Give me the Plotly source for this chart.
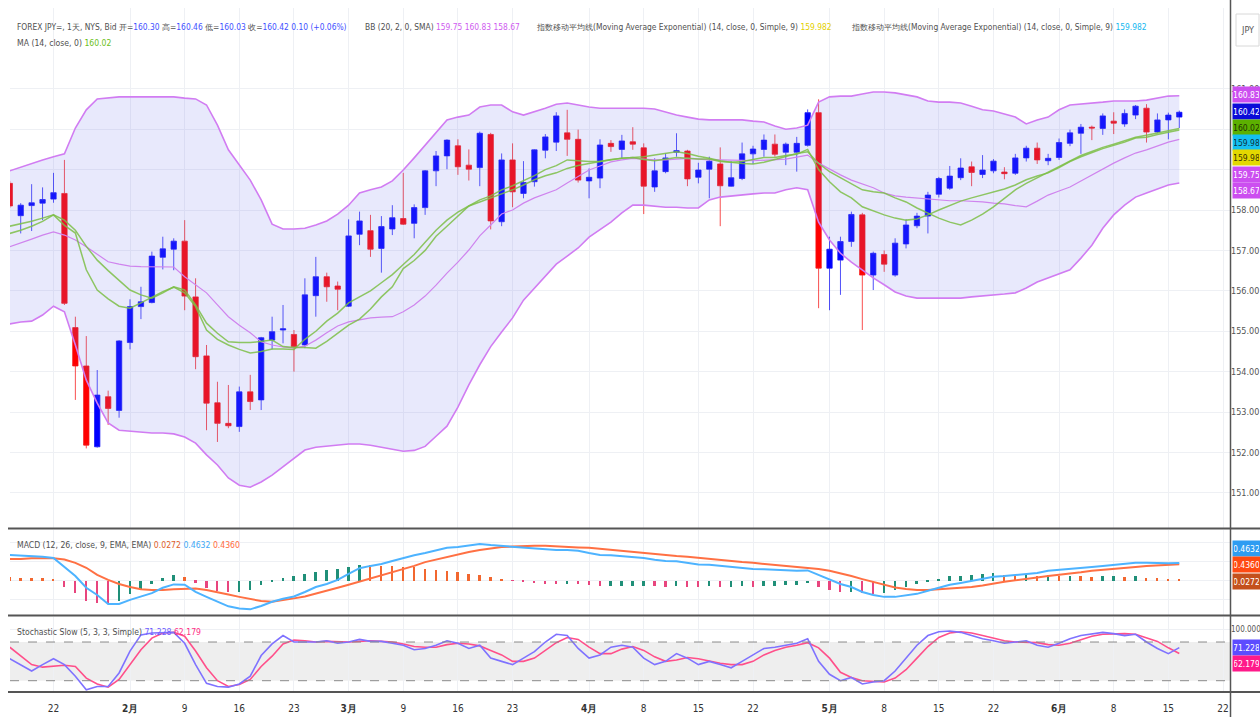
import plotly.graph_objects as go

opens = [158.66, 157.86, 158.11, 158.17, 158.27, 158.41, 155.09, 154.14, 152.14, 153.38,
 153.04, 154.72, 155.61, 155.71, 156.83, 157.03, 157.23, 155.85, 154.39, 153.23,
 152.72, 152.64, 153.50, 153.30, 154.78, 155.03, 154.92, 154.66, 155.88, 156.35,
 156.12, 155.62, 157.40, 157.49, 157.05, 157.53, 157.79, 157.67, 158.06, 158.97,
 159.34, 159.59, 159.11, 159.05, 159.87, 157.71, 159.24, 158.41, 158.70, 159.48,
 159.68, 159.91, 159.75, 158.72, 158.79, 159.65, 159.50, 159.69, 159.54, 158.57,
 158.95, 159.43, 159.46, 158.81, 159.01, 159.14, 158.59, 158.78, 159.39, 159.50,
 159.63, 159.43, 159.43, 159.60, 160.41, 156.56, 156.76, 157.22, 157.88, 156.39,
 156.90, 156.39, 157.16, 157.61, 157.85, 158.39, 158.54, 158.80, 159.07, 158.88,
 158.97, 158.94, 158.91, 159.29, 159.53, 159.22, 159.30, 159.65, 159.90, 160.05,
 160.02, 160.20, 160.13, 160.35, 160.52, 159.93, 160.23, 160.30]
highs = [158.72, 158.17, 158.64, 158.56, 158.92, 159.24, 155.36, 154.88, 154.04, 153.53,
 154.78, 155.79, 156.10, 156.97, 157.34, 157.30, 157.75, 156.31, 154.66, 153.75,
 153.67, 153.63, 153.92, 154.86, 155.36, 155.65, 155.03, 156.31, 156.84, 156.45,
 156.23, 157.77, 157.96, 157.88, 157.85, 158.12, 158.92, 158.14, 158.99, 159.46,
 159.75, 159.75, 159.50, 159.94, 159.91, 159.40, 159.65, 159.21, 159.50, 159.88,
 160.42, 160.48, 159.99, 159.03, 159.75, 159.73, 159.86, 160.05, 159.65, 159.28,
 159.40, 159.90, 159.49, 159.17, 159.32, 159.55, 159.21, 159.67, 159.59, 159.87,
 159.87, 159.67, 159.81, 160.49, 160.74, 157.34, 157.34, 157.96, 157.93, 156.97,
 157.00, 157.30, 157.77, 157.93, 158.45, 158.82, 159.09, 159.28, 159.20, 159.36,
 159.26, 159.06, 159.39, 159.59, 159.67, 159.39, 159.77, 159.99, 160.13, 160.09,
 160.39, 160.42, 160.49, 160.60, 160.62, 160.39, 160.41, 160.46]
lows = [158.05, 157.42, 157.48, 157.75, 158.18, 155.65, 153.30, 152.10, 152.12, 152.68,
 152.86, 154.55, 155.30, 155.69, 156.53, 156.51, 155.52, 154.06, 152.55, 152.26,
 152.60, 152.51, 153.05, 153.05, 154.55, 154.70, 154.00, 154.58, 155.36, 155.73,
 155.52, 155.60, 157.13, 156.84, 156.45, 157.38, 157.63, 157.30, 157.88, 158.59,
 159.01, 158.87, 158.73, 158.59, 157.52, 157.60, 158.07, 158.29, 158.58, 159.28,
 159.46, 159.34, 158.68, 158.29, 158.54, 159.44, 159.28, 159.49, 157.90, 158.45,
 158.91, 159.32, 158.59, 158.66, 158.29, 157.60, 158.58, 158.74, 159.14, 159.32,
 159.32, 159.11, 158.95, 159.57, 155.57, 155.52, 155.90, 157.09, 155.03, 156.02,
 156.47, 156.35, 157.05, 157.55, 157.42, 158.31, 158.50, 158.74, 158.59, 158.79,
 158.91, 158.76, 158.87, 159.20, 159.14, 159.11, 159.24, 159.58, 159.39, 159.73,
 159.86, 159.88, 160.06, 160.25, 159.67, 159.90, 159.75, 160.03]
closes = [158.10, 158.12, 158.18, 158.26, 158.43, 155.69, 154.14, 152.18, 153.42, 153.09,
 154.76, 155.61, 155.73, 156.86, 157.04, 157.23, 155.87, 154.37, 153.22, 152.72,
 152.66, 153.50, 153.26, 154.84, 154.99, 155.06, 154.62, 155.90, 156.35, 156.10,
 156.04, 157.36, 157.73, 157.03, 157.59, 157.81, 157.65, 158.06, 158.97, 159.34,
 159.73, 159.07, 159.01, 159.90, 157.73, 159.24, 158.45, 158.68, 159.49, 159.81,
 160.33, 159.75, 158.74, 158.81, 159.61, 159.57, 159.71, 159.63, 158.59, 158.97,
 159.29, 159.47, 158.77, 158.99, 159.21, 158.60, 158.80, 159.39, 159.51, 159.73,
 159.38, 159.63, 159.65, 160.41, 156.56, 157.03, 157.22, 157.89, 156.39, 156.93,
 156.66, 157.18, 157.63, 157.85, 158.37, 158.78, 158.84, 159.04, 158.93, 158.99,
 159.21, 158.90, 159.29, 159.53, 159.24, 159.28, 159.67, 159.91, 160.05, 160.03,
 160.33, 160.15, 160.39, 160.57, 159.93, 160.23, 160.35, 160.42]

bb_upper = [158.97, 159.06, 159.16, 159.24, 159.32, 159.39, 160.03, 160.48, 160.75, 160.77,
 160.80, 160.80, 160.80, 160.80, 160.80, 160.80, 160.77, 160.75, 160.60, 160.10,
 159.49, 159.11, 158.74, 158.25, 157.65, 157.53, 157.53, 157.55, 157.63, 157.73,
 157.90, 158.12, 158.42, 158.50, 158.57, 158.72, 158.99, 159.29, 159.61, 159.91,
 160.23, 160.30, 160.35, 160.55, 160.60, 160.60, 160.43, 160.35, 160.43, 160.52,
 160.62, 160.65, 160.60, 160.55, 160.52, 160.52, 160.52, 160.52, 160.52, 160.50,
 160.43, 160.35, 160.30, 160.25, 160.23, 160.23, 160.23, 160.23, 160.20, 160.18,
 160.08, 160.00, 160.03, 160.10, 160.67, 160.80, 160.82, 160.82, 160.87, 160.92,
 160.92, 160.90, 160.85, 160.80, 160.70, 160.67, 160.67, 160.65, 160.57, 160.48,
 160.45, 160.38, 160.30, 160.13, 160.23, 160.30, 160.48, 160.60, 160.62, 160.65,
 160.67, 160.70, 160.70, 160.70, 160.72, 160.77, 160.82, 160.83]
bb_mid = [157.09, 157.18, 157.28, 157.38, 157.46, 157.38, 157.26, 157.09, 156.91, 156.72,
 156.66, 156.61, 156.60, 156.60, 156.60, 156.59, 156.35, 156.14, 155.95, 155.65,
 155.36, 155.15, 154.96, 154.74, 154.66, 154.61, 154.58, 154.63, 154.78, 154.96,
 155.13, 155.23, 155.28, 155.33, 155.35, 155.36, 155.48, 155.65, 155.87, 156.14,
 156.44, 156.71, 157.01, 157.36, 157.63, 157.90, 158.00, 158.17, 158.30, 158.40,
 158.50, 158.67, 158.82, 158.99, 159.09, 159.19, 159.24, 159.28, 159.26, 159.24,
 159.24, 159.26, 159.28, 159.26, 159.24, 159.24, 159.24, 159.23, 159.22, 159.23,
 159.24, 159.26, 159.31, 159.36, 159.16, 159.01, 158.87, 158.74, 158.64, 158.55,
 158.42, 158.35, 158.32, 158.30, 158.27, 158.25, 158.23, 158.23, 158.22, 158.20,
 158.17, 158.15, 158.11, 158.08, 158.22, 158.37, 158.47, 158.57, 158.72, 158.87,
 159.02, 159.16, 159.29, 159.41, 159.49, 159.58, 159.68, 159.75]
bb_lower = [155.18, 155.23, 155.25, 155.40, 155.62, 155.48, 154.66, 153.79, 153.22, 152.73,
 152.55, 152.53, 152.50, 152.48, 152.48, 152.46, 152.38, 152.23, 151.94, 151.69,
 151.37, 151.19, 151.14, 151.27, 151.44, 151.64, 151.86, 152.06, 152.13, 152.16,
 152.18, 152.21, 152.21, 152.18, 152.13, 152.08, 152.03, 152.05, 152.15, 152.40,
 152.65, 153.12, 153.67, 154.17, 154.62, 154.98, 155.33, 155.77, 156.07, 156.37,
 156.66, 156.86, 157.06, 157.33, 157.51, 157.70, 157.93, 158.12, 158.12, 158.10,
 158.07, 158.07, 158.05, 158.05, 158.25, 158.32, 158.35, 158.37, 158.40, 158.42,
 158.42, 158.50, 158.55, 158.50, 157.70, 157.26, 156.93, 156.71, 156.51, 156.32,
 156.15, 155.97, 155.87, 155.82, 155.82, 155.82, 155.82, 155.82, 155.85, 155.87,
 155.90, 155.92, 155.95, 156.07, 156.22, 156.32, 156.42, 156.52, 156.81, 157.13,
 157.55, 157.88, 158.12, 158.32, 158.42, 158.52, 158.62, 158.67]

ma_slow = [157.60, 157.66, 157.72, 157.80, 157.88, 157.75, 157.50, 157.10, 156.76, 156.50,
 156.25, 156.02, 155.90, 155.82, 155.95, 156.10, 156.02, 155.65, 155.20, 154.95,
 154.74, 154.72, 154.72, 154.75, 154.78, 154.62, 154.60, 154.60, 154.58, 154.75,
 154.95, 155.15, 155.30, 155.55, 155.85, 156.10, 156.55, 156.75, 157.00, 157.35,
 157.60, 157.85, 158.10, 158.20, 158.30, 158.41, 158.50, 158.62, 158.75, 158.85,
 158.92, 159.03, 159.10, 159.15, 159.20, 159.25, 159.28, 159.30, 159.32, 159.36,
 159.40, 159.44, 159.40, 159.33, 159.28, 159.22, 159.18, 159.15, 159.14, 159.18,
 159.25, 159.32, 159.40, 159.44, 159.15, 158.95, 158.80, 158.64, 158.50, 158.45,
 158.42, 158.30, 158.20, 158.05, 157.92, 157.80, 157.70, 157.63, 157.75, 157.90,
 158.08, 158.30, 158.50, 158.66, 158.80, 158.95, 159.08, 159.22, 159.35, 159.45,
 159.55, 159.63, 159.72, 159.80, 159.85, 159.90, 159.96, 160.02]
ema_fast = [157.42, 157.50, 157.60, 157.72, 157.88, 157.62, 157.43, 156.52, 156.02, 155.80,
 155.62, 155.57, 155.70, 155.85, 155.98, 156.09, 155.95, 155.61, 155.03, 154.80,
 154.66, 154.55, 154.46, 154.50, 154.56, 154.56, 154.55, 154.80, 155.00, 155.25,
 155.45, 155.70, 155.85, 156.00, 156.20, 156.40, 156.65, 156.90, 157.20, 157.50,
 157.75, 157.95, 158.10, 158.25, 158.35, 158.50, 158.60, 158.72, 158.85, 159.00,
 159.10, 159.24, 159.22, 159.20, 159.20, 159.24, 159.28, 159.30, 159.25, 159.22,
 159.26, 159.30, 159.28, 159.26, 159.26, 159.20, 159.18, 159.20, 159.25, 159.30,
 159.30, 159.35, 159.38, 159.50, 159.00, 158.70, 158.45, 158.30, 158.08, 157.98,
 157.88, 157.80, 157.75, 157.78, 157.88, 158.00, 158.12, 158.22, 158.30, 158.37,
 158.45, 158.52, 158.62, 158.75, 158.84, 158.92, 159.05, 159.20, 159.32, 159.42,
 159.52, 159.60, 159.68, 159.78, 159.80, 159.87, 159.93, 159.98]

macd_line = [0.68, 0.67, 0.65, 0.63, 0.60, 0.36, 0.12, -0.19, -0.38, -0.62,
 -0.62, -0.51, -0.43, -0.33, -0.19, -0.10, -0.11, -0.30, -0.43, -0.56,
 -0.68, -0.74, -0.76, -0.67, -0.56, -0.48, -0.42, -0.30, -0.17, -0.09,
 0.02, 0.18, 0.33, 0.39, 0.44, 0.52, 0.60, 0.67, 0.73, 0.81,
 0.87, 0.89, 0.93, 0.97, 0.94, 0.92, 0.89, 0.87, 0.84, 0.83,
 0.81, 0.81, 0.79, 0.73, 0.68, 0.67, 0.65, 0.63, 0.60, 0.55,
 0.52, 0.51, 0.47, 0.43, 0.42, 0.39, 0.36, 0.34, 0.31, 0.30,
 0.28, 0.27, 0.26, 0.27, 0.15, 0.02, -0.09, -0.17, -0.30, -0.38,
 -0.43, -0.43, -0.40, -0.35, -0.27, -0.19, -0.11, -0.06, -0.01, 0.04,
 0.10, 0.12, 0.15, 0.18, 0.20, 0.26, 0.28, 0.31, 0.34, 0.36,
 0.39, 0.42, 0.44, 0.47, 0.47, 0.46, 0.46, 0.4632]
macd_signal = [0.57, 0.57, 0.59, 0.59, 0.59, 0.56, 0.47, 0.34, 0.15, 0.02,
 -0.09, -0.17, -0.23, -0.25, -0.25, -0.23, -0.21, -0.21, -0.25, -0.30,
 -0.37, -0.43, -0.48, -0.54, -0.56, -0.52, -0.47, -0.42, -0.35, -0.27,
 -0.19, -0.11, -0.03, 0.06, 0.15, 0.23, 0.30, 0.39, 0.49, 0.56,
 0.63, 0.69, 0.76, 0.81, 0.85, 0.89, 0.90, 0.92, 0.92, 0.92,
 0.90, 0.89, 0.88, 0.87, 0.84, 0.81, 0.79, 0.76, 0.73, 0.71,
 0.68, 0.65, 0.63, 0.60, 0.57, 0.55, 0.52, 0.49, 0.47, 0.44,
 0.42, 0.39, 0.36, 0.34, 0.31, 0.26, 0.20, 0.12, 0.04, -0.03,
 -0.11, -0.18, -0.22, -0.25, -0.25, -0.23, -0.22, -0.19, -0.17, -0.13,
 -0.09, -0.03, 0.01, 0.04, 0.08, 0.12, 0.15, 0.18, 0.22, 0.26,
 0.28, 0.31, 0.34, 0.36, 0.39, 0.40, 0.42, 0.4360]
macd_hist = [0.10, 0.08, 0.07, 0.06, 0.05, -0.16, -0.33, -0.55, -0.60, -0.63,
 -0.53, -0.35, -0.26, -0.09, 0.06, 0.15, 0.09, -0.05, -0.19, -0.27,
 -0.31, -0.29, -0.26, -0.12, -0.02, 0.08, 0.11, 0.17, 0.23, 0.28,
 0.30, 0.35, 0.42, 0.41, 0.39, 0.38, 0.37, 0.36, 0.30, 0.28,
 0.26, 0.22, 0.18, 0.15, 0.10, 0.04, -0.01, -0.04, -0.07, -0.08,
 -0.09, -0.08, -0.09, -0.12, -0.15, -0.14, -0.14, -0.13, -0.13, -0.15,
 -0.16, -0.14, -0.16, -0.17, -0.15, -0.16, -0.16, -0.15, -0.16, -0.14,
 -0.13, -0.12, -0.11, -0.07, -0.16, -0.24, -0.29, -0.29, -0.34, -0.35,
 -0.32, -0.25, -0.18, -0.10, -0.02, 0.04, 0.11, 0.13, 0.16, 0.17,
 0.19, 0.15, 0.14, 0.14, 0.12, 0.14, 0.13, 0.13, 0.12, 0.10,
 0.11, 0.11, 0.10, 0.11, 0.08, 0.06, 0.04, 0.0272]

stoch_k = [54, 44, 35, 45, 54, 45, 27, 6, 11, 11,
 32, 66, 91, 94, 95, 95, 78, 45, 16, 11,
 10, 15, 27, 59, 77, 90, 80, 80, 80, 82,
 78, 80, 84, 81, 81, 78, 75, 68, 70, 75,
 82, 78, 70, 75, 55, 50, 45, 55, 65, 80,
 92, 90, 70, 55, 60, 72, 75, 72, 55, 45,
 50, 62, 55, 45, 50, 45, 40, 50, 60, 70,
 72, 75, 78, 85, 50, 30, 20, 25, 15, 18,
 20, 35, 55, 75, 90, 96, 97, 95, 90, 85,
 82, 78, 80, 82, 75, 72, 78, 85, 90, 92,
 95, 93, 90, 92, 80, 70, 62, 71.228]
stoch_d = [72, 58, 45, 41, 43, 44, 42, 24, 15, 10,
 22, 45, 68, 86, 94, 95, 89, 66, 40, 20,
 11, 14, 22, 42, 58, 77, 83, 82, 80, 81,
 80, 80, 81, 82, 81, 80, 77, 73, 72, 72,
 76, 78, 77, 74, 67, 60, 50, 50, 55, 67,
 79, 87, 84, 72, 62, 62, 69, 73, 67, 57,
 50, 52, 56, 54, 50, 47, 45, 45, 50, 60,
 67, 72, 75, 79, 71, 55, 33, 25, 20, 19,
 18, 24, 37, 55, 73, 87, 94, 96, 94, 90,
 86, 82, 80, 80, 79, 76, 75, 78, 84, 89,
 92, 93, 93, 92, 87, 81, 71, 62.179]

tick_idx = [4, 11, 16, 21, 26, 31, 36, 41, 46, 53, 58, 63, 68, 75, 80, 85, 90, 96, 101, 106, 111]
tick_text = ["22", "<b>2月</b>", "9", "16", "23", "<b>3月</b>", "9", "16", "23", "<b>4月</b>",
             "8", "15", "22", "<b>5月</b>", "8", "15", "22", "<b>6月</b>", "8", "15", "22"]
price_ticks = [151, 152, 153, 154, 155, 156, 157, 158, 159, 160, 161]
price_tick_text = ["151.00", "152.00", "153.00", "154.00", "155.00", "156.00", "157.00", "158.00",
                   "", "", "161.00"]

idx = list(range(len(closes)))

# ---- layout geometry in page pixels ----
W, H = 1260, 717
ML, MT = 10, 8
PW, PH = 1220, 684
MR, MB = W - ML - PW, H - MT - PH


def px(x):
    return (x - ML) / PW


def py(y):
    return (MT + PH - y) / PH


FONT = "Liberation Sans Narrow, DejaVu Sans Condensed, Liberation Sans, sans-serif"
GRID = "#eef0f4"
TXT = "#505050"

fig = go.Figure()

fig.add_trace(go.Scatter(x=idx, y=bb_lower, mode="lines", line=dict(color="#d17cf2", width=1.6),
                         xaxis="x", yaxis="y", showlegend=False, hoverinfo="skip"))
fig.add_trace(go.Scatter(x=idx, y=bb_upper, mode="lines", line=dict(color="#d17cf2", width=1.6),
                         fill="tonexty", fillcolor="rgba(120,123,235,0.17)",
                         xaxis="x", yaxis="y", showlegend=False, hoverinfo="skip"))
fig.add_trace(go.Scatter(x=idx, y=bb_mid, mode="lines", line=dict(color="#cf84ee", width=1.2),
                         xaxis="x", yaxis="y", showlegend=False, hoverinfo="skip"))
fig.add_trace(go.Scatter(x=idx, y=ma_slow, mode="lines", line=dict(color="rgba(124,190,70,0.85)", width=1.5),
                         xaxis="x", yaxis="y", showlegend=False, hoverinfo="skip"))
fig.add_trace(go.Scatter(x=idx, y=ema_fast, mode="lines", line=dict(color="rgba(124,190,70,0.85)", width=1.5),
                         xaxis="x", yaxis="y", showlegend=False, hoverinfo="skip"))
fig.add_trace(go.Candlestick(x=idx, open=opens, high=highs, low=lows, close=closes,
                             increasing=dict(line=dict(color="rgba(20,20,245,0.75)", width=1), fillcolor="#0000ff"),
                             decreasing=dict(line=dict(color="rgba(245,20,20,0.75)", width=1), fillcolor="#ff0000"),
                             xaxis="x", yaxis="y", showlegend=False, hoverinfo="skip"))

hist_colors = []
for i, v in enumerate(macd_hist):
    prev = macd_hist[i - 1] if i > 0 else v + 1
    if v >= prev:
        hist_colors.append("#1f8f78")
    elif v >= 0:
        hist_colors.append("#f2672f")
    else:
        hist_colors.append("#e8457e")
fig.add_trace(go.Bar(x=idx, y=macd_hist, marker=dict(color=hist_colors, line=dict(width=0)), width=0.18,
                     xaxis="x2", yaxis="y2", showlegend=False, hoverinfo="skip"))
fig.add_trace(go.Scatter(x=idx, y=macd_signal, mode="lines", line=dict(color="#ff7043", width=2),
                         xaxis="x2", yaxis="y2", showlegend=False, hoverinfo="skip"))
fig.add_trace(go.Scatter(x=idx, y=macd_line, mode="lines", line=dict(color="#4db3ff", width=2),
                         xaxis="x2", yaxis="y2", showlegend=False, hoverinfo="skip"))

fig.add_trace(go.Scatter(x=idx, y=stoch_d, mode="lines", line=dict(color="#ff4f8a", width=1.6),
                         xaxis="x3", yaxis="y3", showlegend=False, hoverinfo="skip"))
fig.add_trace(go.Scatter(x=idx, y=stoch_k, mode="lines", line=dict(color="#7f72ff", width=1.6),
                         xaxis="x3", yaxis="y3", showlegend=False, hoverinfo="skip"))

xr = [0.02, 111.64]
common_x = dict(range=xr, showgrid=True, gridcolor=GRID, gridwidth=1, zeroline=False,
                tickvals=tick_idx, showline=False, fixedrange=True, automargin=False)
fig.update_layout(
    width=W, height=H, margin=dict(l=ML, r=MR, t=MT, b=MB, autoexpand=False),
    paper_bgcolor="white", plot_bgcolor="white",
    font=dict(family=FONT, size=10, color=TXT),
    bargap=0,
    xaxis=dict(domain=[0, 1], anchor="y", showticklabels=False, rangeslider=dict(visible=False), **common_x),
    xaxis2=dict(domain=[0, 1], anchor="y2", showticklabels=False, **common_x),
    xaxis3=dict(domain=[0, 1], anchor="y3", ticktext=tick_text, ticks="", ticklen=0, ticklabelstandoff=9,
                tickfont=dict(size=10, color="#333"), **common_x),
    yaxis=dict(domain=[py(528), 1.0], range=[150.13, 163.0], side="right", tickvals=price_ticks,
               ticktext=price_tick_text, showgrid=True, gridcolor=GRID,
               zeroline=False, tickfont=dict(size=9, color="#555"), ticks="", fixedrange=True, automargin=False),
    yaxis2=dict(domain=[py(615), py(530)], range=[-0.91, 1.34], side="right", showticklabels=False,
                showgrid=True, gridcolor=GRID, tickvals=[-0.5, 0, 0.5, 1.0], zeroline=False,
                fixedrange=True, automargin=False),
    yaxis3=dict(domain=[0, py(617)], range=[2.48, 118.8], side="right", tickvals=[100],
                ticktext=["100.000"], showgrid=True, gridcolor=GRID, zeroline=False,
                tickfont=dict(size=8, color="#555"), ticks="", fixedrange=True, automargin=False),
)

shapes = []
shapes.append(dict(type="rect", xref="x3 domain", yref="y3", x0=0, x1=1, y0=20, y1=80,
                   fillcolor="rgba(0,0,0,0.065)", line=dict(width=0), layer="below"))
for lvl in (20, 80):
    shapes.append(dict(type="line", xref="x3 domain", yref="y3", x0=0, x1=1, y0=lvl, y1=lvl,
                       line=dict(color="#8a8a8a", width=1, dash="dash")))
for yy in (528.5, 615.5, 692.0):
    shapes.append(dict(type="line", xref="paper", yref="paper", x0=px(8), x1=px(1260), y0=py(yy), y1=py(yy),
                       line=dict(color="#555555", width=2)))
shapes.append(dict(type="line", xref="paper", yref="paper", x0=px(1230.5), x1=px(1230.5), y0=py(0), y1=py(717),
                   line=dict(color="#555555", width=1.5)))
shapes.append(dict(type="rect", xref="paper", yref="paper", x0=px(1236), x1=px(1259), y0=py(46), y1=py(14),
                   fillcolor="white", line=dict(color="#d8d8d8", width=1)))
fig.update_layout(shapes=shapes)

ann = []


def text(x, y, s, color=TXT, size=9):
    ann.append(dict(xref="paper", yref="paper", x=px(x), y=py(y), text=s, showarrow=False,
                    xanchor="left", yanchor="middle", font=dict(size=size, color=color, family=FONT)))


def c(s, col):
    return f"<span style='color:{col}'>{s}</span>"


BLUE = "#3f51ff"
VIO = "#cf5cf0"
SP = "&nbsp;"
text(15, 27, "FOREX JPY=, 1天, NYS, Bid" + SP
     + "开=" + c(f"{opens[-1]:.2f}", BLUE) + SP + "高=" + c(f"{highs[-1]:.2f}", BLUE) + SP
     + "低=" + c(f"{lows[-1]:.2f}", BLUE) + SP + "收=" + c(f"{closes[-1]:.2f}", BLUE) + SP
     + c("0.10 (+0.06%)", BLUE), size=8.4)
text(363, 27, "BB (20, 2, 0, SMA)" + SP + c(f"{bb_mid[-1]:.2f}", VIO) + SP
     + c(f"{bb_upper[-1]:.2f}", VIO) + SP + c(f"{bb_lower[-1]:.2f}", VIO), size=8.4)
text(534, 27, "指数移动平均线(Moving Average Exponential) (14, close, 0, Simple, 9)" + SP
     + c("159.982", "#e3cf00"), size=8.4)
text(849, 27, "指数移动平均线(Moving Average Exponential) (14, close, 0, Simple, 9)" + SP
     + c("159.982", "#14b8f0"), size=8.4)
text(15, 43, "MA (14, close, 0)" + SP + c(f"{ma_slow[-1]:.2f}", "#6cc01a"), size=8.6)
text(15, 545, "MACD (12, 26, close, 9, EMA, EMA)" + SP + c(f"{macd_hist[-1]:.4f}", "#e0602a") + SP
     + c(f"{macd_line[-1]:.4f}", "#3ea8f5") + SP + c(f"{macd_signal[-1]:.4f}", "#ff6a3d"), size=8.6)
text(15, 632, "Stochastic Slow (5, 3, 3, Simple)" + SP + c(f"{stoch_k[-1]:.3f}", "#6e5cff") + SP
     + c(f"{stoch_d[-1]:.3f}", "#ff2f86"), size=8.6)
text(1239, 30, "JPY", "#555", 9)


def badge(yref, val, label, bg, fg="white", shift=0):
    ann.append(dict(xref="paper", yref=yref, x=1, y=val, xanchor="left", yanchor="middle",
                    xshift=1.5, yshift=shift, text=label, showarrow=False, bgcolor=bg,
                    font=dict(size=8.5, color=fg, family=FONT), width=25, height=13, borderpad=1))


badge("y", bb_upper[-1], f"{bb_upper[-1]:.2f}", "#cc4ef0", shift=1.5)
badge("y", closes[-1], f"{closes[-1]:.2f}", "#0b0bd8", shift=1)
badge("y", ma_slow[-1], f"{ma_slow[-1]:.2f}", "#5cb000", "#1d3300", shift=0.5)
badge("y", 159.982, "159.98", "#14bff0", "#0d3340", shift=-13)
badge("y", 159.982, "159.98", "#e3d800", "#3a3600", shift=-28)
badge("y", bb_mid[-1], f"{bb_mid[-1]:.2f}", "#cc4ef0", shift=-35)
badge("y", bb_lower[-1], f"{bb_lower[-1]:.2f}", "#cc4ef0", shift=-8)
badge("y2", macd_line[-1], f"{macd_line[-1]:.4f}", "#2e9cf2", shift=14.5)
badge("y2", macd_signal[-1], f"{macd_signal[-1]:.4f}", "#ff4a12", shift=-0.5)
badge("y2", macd_hist[-1], f"{macd_hist[-1]:.4f}", "#c4501c", shift=-1.5)
badge("y3", stoch_k[-1], f"{stoch_k[-1]:.3f}", "#5c4cff", shift=0)
badge("y3", stoch_d[-1], f"{stoch_d[-1]:.3f}", "#ff1a8a", shift=-9.5)

fig.update_layout(annotations=ann)
fig.write_html("out.html", config={"displayModeBar": False},
               post_script="document.body.style.margin='0px';document.body.style.overflow='hidden';")
